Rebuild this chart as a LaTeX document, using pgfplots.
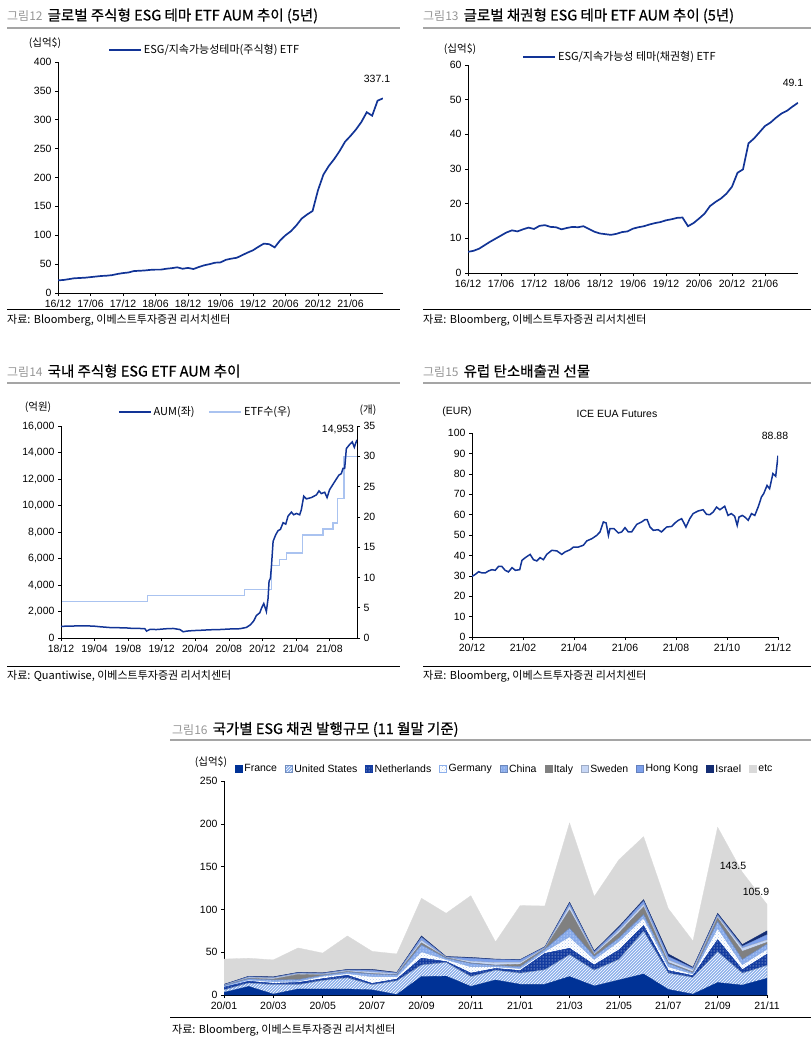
\documentclass[border=0pt]{standalone}
\usepackage{fontspec}
\setmainfont{Liberation Sans}
\newfontfamily\kr{Noto Sans CJK KR}
\newfontfamily\krt[FakeBold=0.6]{Noto Sans CJK KR}
\usepackage{pgfplots}
\usepackage{pgfplotstable}
\pgfplotsset{compat=1.18}
\usetikzlibrary{patterns}

\definecolor{lineblue}{RGB}{18,52,150}
\definecolor{etfblue}{RGB}{170,195,240}
\definecolor{frc}{RGB}{0,50,150}
\definecolor{usc}{RGB}{140,175,235}
\definecolor{nlc}{RGB}{20,60,160}
\definecolor{chc}{RGB}{135,170,235}
\definecolor{itc}{RGB}{128,128,128}
\definecolor{swc}{RGB}{198,214,245}
\definecolor{hkc}{RGB}{125,160,235}
\definecolor{isc}{RGB}{20,45,115}
\definecolor{etcc}{RGB}{217,217,217}
\definecolor{titlegray}{RGB}{150,150,150}
\definecolor{rulegray}{RGB}{165,165,165}

\newcommand{\ttl}[2]{{\kr\fontsize{12}{14}\selectfont\color{titlegray}#1}\hspace{5pt}{\krt\fontsize{14.5}{16}\selectfont #2}}

\pgfplotsset{
  every axis/.append style={
    scale only axis,
    axis x line*=bottom, axis y line*=left,
    axis line style={black, line width=0.8pt},
    tick style={black, line width=0.6pt},
    tick align=outside, major tick length=3pt,
    ticklabel style={font=\fontsize{10.5}{12}\selectfont},
    /pgf/number format/assume math mode=true,
    scaled ticks=false,
  },
  linelegend/.style={
    legend image code/.code={\draw[##1] (0pt,0pt) -- (32pt,0pt);},
    legend style={draw=none, fill=none, inner sep=0pt, anchor=west,
      font=\fontsize{11}{12}\selectfont\kr},
    legend cell align=left,
  },
}

% ---------- data ----------
\pgfplotstableread{
m v
0 22
1 22.5
2 24
3 25.5
4 26
5 26.5
6 27.5
7 28.5
8 29.5
9 30
10 31
11 33
12 34.5
13 35.5
14 38
15 38.5
16 39
17 40
18 40.5
19 40.5
20 42
21 43
22 44.5
23 42
24 43.5
25 41.5
26 45
27 48
28 50
29 52.5
30 53
31 57.5
32 59.5
33 61
34 65.5
35 70
36 74
37 80
38 85.5
39 84.5
40 79
41 91
42 100
43 107
44 117
45 129
46 136
47 142
48 178
49 205
50 220
51 232
52 246
53 262
54 272
55 283
56 296
57 313
58 307
59 333
60 337.1
}\eqdata

\pgfplotstableread{
m v
0 6.1
1 6.4
2 7.0
3 8.0
4 9.0
5 9.9
6 10.8
7 11.7
8 12.3
9 12.0
10 12.6
11 13.1
12 12.7
13 13.6
14 13.8
15 13.3
16 13.2
17 12.6
18 13.0
19 13.3
20 13.2
21 13.5
22 12.7
23 11.9
24 11.4
25 11.2
26 11.0
27 11.3
28 11.8
29 12.0
30 12.8
31 13.2
32 13.5
33 14.0
34 14.4
35 14.7
36 15.2
37 15.5
38 15.9
39 16.0
40 13.5
41 14.4
42 15.7
43 17.1
44 19.3
45 20.5
46 21.5
47 22.9
48 24.9
49 28.9
50 29.9
51 37.4
52 38.8
53 40.6
54 42.4
55 43.4
56 44.8
57 46.0
58 46.8
59 48.0
60 49.1
}\bddata

\pgfplotstableread{
t v
0 880
1.07 900
2.66 920
3.85 900
4.64 850
5.83 790
6.63 780
7.82 760
8.61 720
9.40 720
10.0 700
10.2 520
10.6 650
11.39 640
12.58 700
13.37 720
14.17 640
14.56 470
14.96 520
15.75 560
16.55 580
17.74 620
18.93 640
20.12 680
21.31 700
22.1 800
22.58 1000
22.98 1300
23.29 1700
23.69 1900
23.93 2300
24.17 2600
24.33 2300
24.48 2000
24.68 3000
24.8 4300
24.96 4500
25.08 5400
25.28 7300
25.6 7800
25.87 8100
26.15 8200
26.47 8700
26.79 8600
27.06 9200
27.46 9500
27.74 9300
28.06 9400
28.45 9300
28.65 9700
28.93 10700
29.25 10500
29.84 10600
30.44 10800
30.75 11100
31.03 10900
31.43 11000
31.71 10600
32.02 11200
32.42 11600
32.82 12000
33.13 12300
33.41 12400
33.61 12800
33.81 12800
34.01 14300
34.4 14600
34.72 14800
34.96 14400
35.12 14700
35.28 14953
}\aumdata

\pgfplotstableread{
t v
0 6
10.32 7
21.9 8
25.08 12
26.07 13
26.87 14
28.77 17
31.23 18
32.42 19
32.94 23
33.73 30
35.28 30
}\etfdata

\pgfplotstableread{
t v
0.00 29.7
0.13 30.7
0.26 32.0
0.39 31.4
0.52 31.4
0.65 32.4
0.78 33.0
0.91 32.7
1.04 34.6
1.17 34.6
1.30 32.7
1.43 31.9
1.57 34.0
1.70 32.7
1.87 33.0
1.96 37.6
2.09 38.9
2.28 40.5
2.41 37.9
2.54 37.3
2.67 38.9
2.80 37.9
2.93 40.5
3.13 42.5
3.33 42.2
3.52 40.5
3.65 41.7
3.85 42.8
3.98 44.1
4.17 44.1
4.37 45.0
4.50 47.1
4.70 48.2
4.89 49.8
5.02 51.5
5.15 56.4
5.26 55.9
5.35 49.8
5.41 53.1
5.57 53.1
5.74 51.0
5.87 51.5
6.00 53.6
6.13 51.5
6.26 51.5
6.46 55.2
6.65 56.4
6.78 57.5
6.87 57.5
6.98 53.9
7.11 52.3
7.30 52.6
7.43 51.5
7.63 53.9
7.83 54.2
7.96 55.9
8.09 57.2
8.22 58.0
8.31 55.9
8.39 53.9
8.54 58.0
8.67 60.5
8.87 61.8
9.06 62.4
9.20 60.1
9.33 60.0
9.46 61.3
9.59 63.7
9.72 62.4
9.91 64.1
10.04 59.6
10.17 60.5
10.30 59.2
10.40 54.7
10.47 58.8
10.60 59.6
10.70 58.8
10.83 57.2
10.96 60.5
11.09 59.6
11.22 63.7
11.35 68.6
11.44 70.3
11.57 74.3
11.67 72.7
11.80 80.1
11.91 78.8
12.00 88.88
}\euadata

\pgfplotstableread{
i F US NL GE CN IT SE HK IL ETC
0 3 3 3 1 1 0 0.5 0.5 0.5 29.5
1 10 4 2 1.5 1.5 0.5 1 1 0.5 21
2 1 11 1.6 2 2 1 1.3 0.7 0.7 19.7
3 7 5 2.5 1.5 2 6 1 1 0.5 28.5
4 7 10 2 3 1 0.5 1 1 0.5 23
5 7 13 3 2 2 0.5 1 1 0.5 39
6 6 6 1.5 8 3 0.5 2 2 1 21
7 0.5 16 2 3 2 0.5 1 1 0.5 21.5
8 21.5 13.5 8 7.5 8 2.5 3 3.5 1.5 44
9 22 16 1 2.5 1.5 0.5 0.5 0.5 0.5 50.5
10 10 11.5 4 7.5 4 0.5 2 3.5 1 72
11 17.5 11.5 2 2 1.5 0.5 3 3.5 0.5 20
12 12.5 13 3 2.5 2 3 2 3 0.5 63
13 12.5 17 19 2.5 2.5 0.5 1 1 0.5 47.5
14 21.5 25.5 7.5 13.5 10 21.5 4.5 3 1.5 92.5
15 10.5 18.5 6 6.5 3.5 2 1.5 2 1 63.5
16 17.5 24 11 10 4 6 3 3 1.5 78
17 24.5 50 6.5 9 4 9 3 4 1.5 73.5
18 6.5 19 3 4.5 4 1 3 4 3 53
19 1 19.5 2 2 1.5 1 2.5 2 1 30.5
20 14.5 36 14 13.5 8 4 2 2 1.5 100.5
21 11.5 14 4 6 6 9.5 4 2 2 84.5
22 19.5 15 13 6 6 2 3 6 4.5 30.9
}\bonddata

\begin{document}
\begin{tikzpicture}
\path[use as bounding box] (0pt,0pt) rectangle (811pt,-1041pt);

% ================= Chart 12 =================
\node[anchor=base west, inner sep=0pt] at (7pt,-20.5pt)
  {\ttl{그림12}{글로벌 주식형 ESG 테마 ETF AUM 추이 (5년)}};
\draw[rulegray, line width=2pt] (7pt,-28pt) -- (400pt,-28pt);
\node[font=\kr\fontsize{10.5}{12}\selectfont] at (45pt,-43pt) {(십억\$)};
\begin{axis}[at={(58pt,-293pt)}, anchor=south west, width=325pt, height=231pt,
  xmin=0, xmax=60, ymin=0, ymax=400,
  ytick={0,50,...,400},
  xtick={0,6,...,54},
  xticklabels={16/12,17/06,17/12,18/06,18/12,19/06,19/12,20/06,20/12,21/06},
  linelegend, legend style={at={(0.154,1.052)}}]
\addplot[lineblue, line width=1.7pt, mark=none] table[x=m,y=v] {\eqdata};
\addlegendentry{ESG/지속가능성테마(주식형) ETF}
\end{axis}
\node[font=\fontsize{10.5}{12}\selectfont] at (377pt,-79pt) {337.1};
\draw[black, line width=0.8pt] (7pt,-309pt) -- (400pt,-309pt);
\node[anchor=west, inner sep=0pt, font=\kr\fontsize{11}{12}\selectfont] at (7pt,-320pt) {자료: Bloomberg, 이베스트투자증권 리서치센터};

% ================= Chart 13 =================
\node[anchor=base west, inner sep=0pt] at (423pt,-20.5pt)
  {\ttl{그림13}{글로벌 채권형 ESG 테마 ETF AUM 추이 (5년)}};
\draw[rulegray, line width=2pt] (423pt,-28pt) -- (811pt,-28pt);
\node[font=\kr\fontsize{10.5}{12}\selectfont] at (460pt,-49pt) {(십억\$)};
\begin{axis}[at={(468pt,-273pt)}, anchor=south west, width=330pt, height=208pt,
  xmin=0, xmax=60, ymin=0, ymax=60,
  ytick={0,10,...,60},
  xtick={0,6,...,54},
  xticklabels={16/12,17/06,17/12,18/06,18/12,19/06,19/12,20/06,20/12,21/06},
  linelegend, legend style={at={(0.164,1.0385)}}]
\addplot[lineblue, line width=1.7pt, mark=none] table[x=m,y=v] {\bddata};
\addlegendentry{ESG/지속가능성 테마(채권형) ETF}
\end{axis}
\node[font=\fontsize{10.5}{12}\selectfont] at (793pt,-83pt) {49.1};
\draw[black, line width=0.8pt] (423pt,-309pt) -- (811pt,-309pt);
\node[anchor=west, inner sep=0pt, font=\kr\fontsize{11}{12}\selectfont] at (423pt,-320pt) {자료: Bloomberg, 이베스트투자증권 리서치센터};

% ================= Chart 14 =================
\node[anchor=base west, inner sep=0pt] at (7pt,-376.5pt)
  {\ttl{그림14}{국내 주식형 ESG ETF AUM 추이}};
\draw[rulegray, line width=2pt] (7pt,-383pt) -- (400pt,-383pt);
\node[font=\kr\fontsize{10.5}{12}\selectfont] at (38pt,-407pt) {(억원)};
\node[font=\kr\fontsize{10.5}{12}\selectfont] at (368pt,-410pt) {(개)};
\begin{axis}[at={(61pt,-638pt)}, anchor=south west, width=296pt, height=212pt,
  xmin=0, xmax=35.28, ymin=0, ymax=35,
  axis x line=none, axis y line*=right,
  ytick={0,5,...,35}]
\addplot[etfblue, line width=1.5pt, mark=none, const plot] table[x=t,y=v] {\etfdata};
\end{axis}
\begin{axis}[at={(61pt,-638pt)}, anchor=south west, width=296pt, height=212pt,
  xmin=0, xmax=35.28, ymin=0, ymax=16000,
  ytick={0,2000,...,16000},
  xtick={0,4,...,32},
  xticklabels={18/12,19/04,19/08,19/12,20/04,20/08,20/12,21/04,21/08},
  linelegend, legend columns=2,
  legend style={at={(0.1926,1.066)}, /tikz/every even column/.append style={column sep=12pt}}]
\addplot[lineblue, line width=1.5pt, mark=none] table[x=t,y=v] {\aumdata};
\addlegendentry{AUM(좌)}
\addlegendimage{etfblue, line width=1.5pt}
\addlegendentry{ETF수(우)}
\end{axis}
\node[font=\fontsize{10.5}{12}\selectfont] at (338pt,-430pt) {14,953};
\draw[black, line width=0.8pt] (7pt,-666pt) -- (400pt,-666pt);
\node[anchor=west, inner sep=0pt, font=\kr\fontsize{11}{12}\selectfont] at (7pt,-676pt) {자료: Quantiwise, 이베스트투자증권 리서치센터};

% ================= Chart 15 =================
\node[anchor=base west, inner sep=0pt] at (423pt,-376.5pt)
  {\ttl{그림15}{유럽 탄소배출권 선물}};
\draw[rulegray, line width=2pt] (423pt,-383pt) -- (811pt,-383pt);
\node[font=\fontsize{10.5}{12}\selectfont] at (457pt,-412pt) {(EUR)};
\node[font=\fontsize{10.5}{12}\selectfont] at (617pt,-414pt) {ICE EUA Futures};
\begin{axis}[at={(472pt,-637pt)}, anchor=south west, width=306pt, height=204pt,
  xmin=0, xmax=12, ymin=0, ymax=100,
  ytick={0,10,...,100},
  xtick={0,2,...,12},
  xticklabels={20/12,21/02,21/04,21/06,21/08,21/10,21/12}]
\addplot[lineblue, line width=1.5pt, mark=none] table[x=t,y=v] {\euadata};
\end{axis}
\node[font=\fontsize{10.5}{12}\selectfont] at (775pt,-436pt) {88.88};
\draw[black, line width=0.8pt] (423pt,-666pt) -- (811pt,-666pt);
\node[anchor=west, inner sep=0pt, font=\kr\fontsize{11}{12}\selectfont] at (423pt,-676pt) {자료: Bloomberg, 이베스트투자증권 리서치센터};

% ================= Chart 16 =================
\node[anchor=base west, inner sep=0pt] at (172pt,-734pt)
  {\ttl{그림16}{국가별 ESG 채권 발행규모 (11 월말 기준)}};
\draw[rulegray, line width=2pt] (170pt,-740pt) -- (811pt,-740pt);
\node[font=\kr\fontsize{10.5}{12}\selectfont] at (211pt,-762pt) {(십억\$)};
\begin{axis}[at={(224pt,-995pt)}, anchor=south west, width=543pt, height=214pt,
  xmin=0, xmax=22, ymin=0, ymax=250,
  ytick={0,50,...,250},
  xtick={0,2,...,22},
  xticklabels={20/01,20/03,20/05,20/07,20/09,20/11,21/01,21/03,21/05,21/07,21/09,21/11},
  stack plots=y,
  legend columns=-1,
  legend image code/.code={\draw[#1] (0pt,-3.5pt) rectangle (7pt,3.5pt);},
  legend style={at={(0.02,1.056)}, anchor=west, draw=none, fill=none, inner sep=0pt,
    font=\fontsize{10.5}{12}\selectfont,
    /tikz/every even column/.append style={column sep=6pt}},
  legend cell align=left]
\addplot[mark=none, fill=frc, draw=frc, line width=0.3pt] table[x=i,y=F] {\bonddata} \closedcycle;
\addlegendentry{France}
\addplot[mark=none, fill=usc, draw=usc!80!black, line width=0.3pt, postaction={pattern=north east lines, pattern color=white}] table[x=i,y=US] {\bonddata} \closedcycle;
\addlegendentry{United States}
\addplot[mark=none, fill=nlc, draw=nlc, line width=0.3pt, postaction={pattern=dots, pattern color=white}] table[x=i,y=NL] {\bonddata} \closedcycle;
\addlegendentry{Netherlands}
\addplot[mark=none, fill=white, draw=usc, line width=0.3pt, postaction={pattern=crosshatch dots, pattern color=usc!70}] table[x=i,y=GE] {\bonddata} \closedcycle;
\addlegendentry{Germany}
\addplot[mark=none, fill=chc, draw=chc!80!black, line width=0.3pt, postaction={pattern=dots, pattern color=white}] table[x=i,y=CN] {\bonddata} \closedcycle;
\addlegendentry{China}
\addplot[mark=none, fill=itc, draw=itc, line width=0.3pt] table[x=i,y=IT] {\bonddata} \closedcycle;
\addlegendentry{Italy}
\addplot[mark=none, fill=swc, draw=swc!80!black, line width=0.3pt] table[x=i,y=SE] {\bonddata} \closedcycle;
\addlegendentry{Sweden}
\addplot[mark=none, fill=hkc, draw=hkc!80!black, line width=0.3pt] table[x=i,y=HK] {\bonddata} \closedcycle;
\addlegendentry{Hong Kong}
\addplot[mark=none, fill=isc, draw=isc, line width=0.3pt] table[x=i,y=IL] {\bonddata} \closedcycle;
\addlegendentry{Israel}
\addplot[mark=none, fill=etcc, draw=etcc, line width=0.3pt] table[x=i,y=ETC] {\bonddata} \closedcycle;
\addlegendentry{etc}
\end{axis}
\node[font=\fontsize{10.5}{12}\selectfont] at (733pt,-866pt) {143.5};
\node[font=\fontsize{10.5}{12}\selectfont] at (756pt,-892pt) {105.9};
\draw[black, line width=0.8pt] (170pt,-1017pt) -- (811pt,-1017pt);
\node[anchor=west, inner sep=0pt, font=\kr\fontsize{11}{12}\selectfont] at (172pt,-1030pt) {자료: Bloomberg, 이베스트투자증권 리서치센터};
\end{tikzpicture}
\end{document}
